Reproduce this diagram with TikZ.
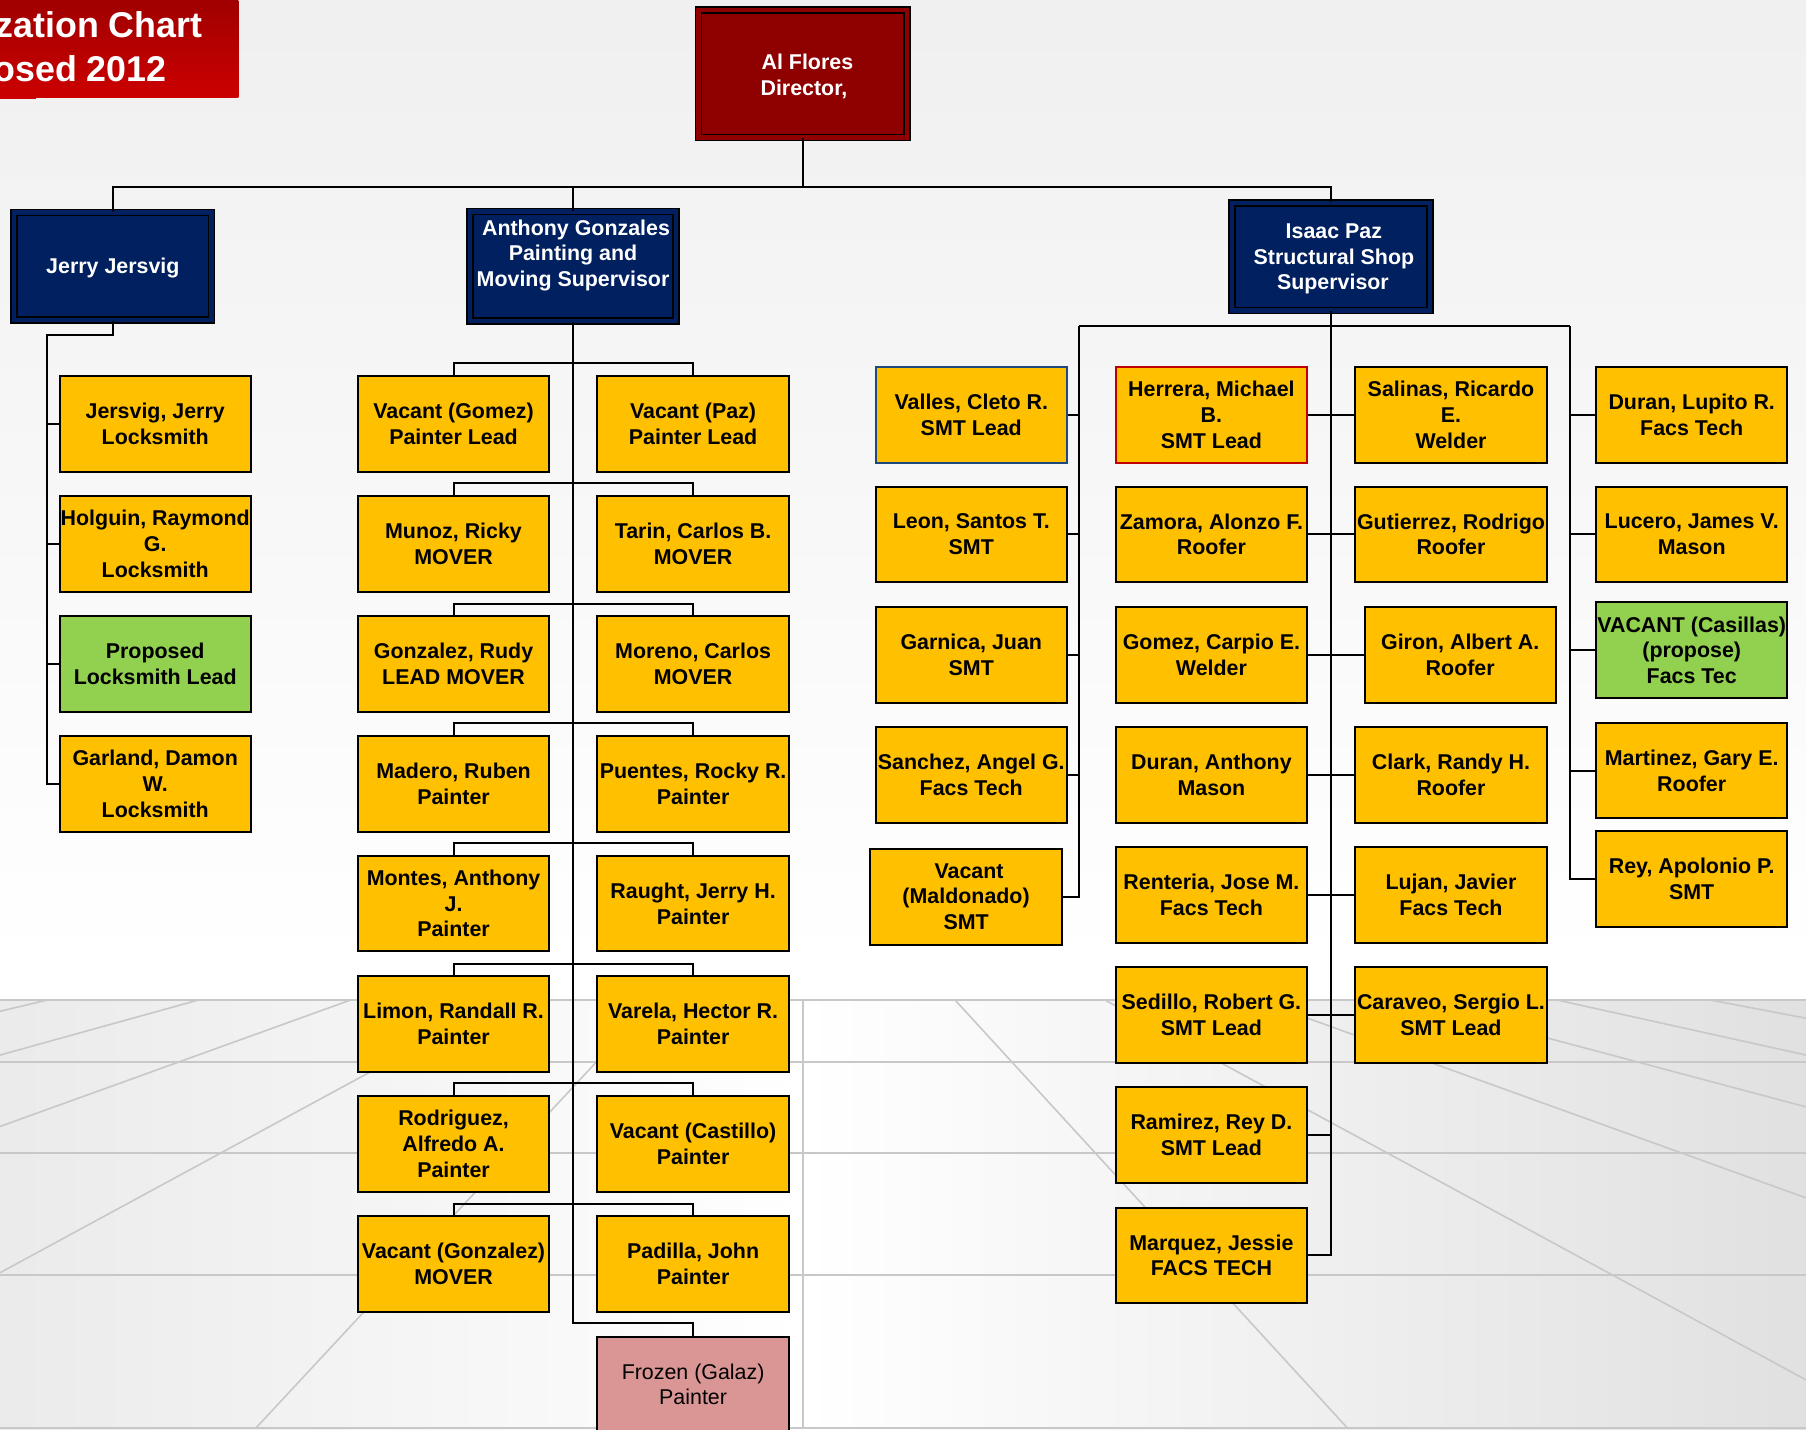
\documentclass[tikz,border=0pt]{standalone}
\usepackage{fontspec}
\setmainfont{Liberation Sans}
\tikzset{
  x=0.5759pt,y=-0.5759pt,
  staff/.style={draw=black,line width=1pt,fill=amber,minimum width=95.7pt,minimum height=47.9pt,inner sep=0pt,xshift=0.15pt,align=center,text=black,font=\bfseries\fontsize{10.7}{12.85}\selectfont},
  greenbox/.style={staff,fill=leaf},
  frozenbox/.style={staff,fill=rose,font=\fontsize{10.7}{12.85}\selectfont},
  redline/.style={staff,draw=hotred},
  blueline/.style={staff,draw=edgeblue},
  chief/.style={draw=black,line width=0.8pt,inner sep=0pt,align=center,text=white,font=\bfseries\fontsize{10.7}{12.85}\selectfont,double distance=2.2pt},
  navybox/.style={chief,fill=navy,double=navy,minimum width=98.8pt,minimum height=53.7pt},
  conn/.style={draw=black,line width=1pt},
  grid/.style={draw=gridgray,line width=0.8pt},
  gridh/.style={draw=gridgray,line width=1pt},
  titletext/.style={text=white,inner sep=0pt,font=\bfseries\fontsize{17.9}{21.9}\selectfont}
}
\definecolor{amber}{HTML}{FFC000}
\definecolor{leaf}{HTML}{92D050}
\definecolor{rose}{HTML}{D99694}
\definecolor{hotred}{HTML}{C00000}
\definecolor{edgeblue}{HTML}{1F497D}
\definecolor{navy}{HTML}{002060}
\definecolor{maroon}{HTML}{8F0000}
\definecolor{gridgray}{HTML}{C8C8C8}
\definecolor{titletop}{HTML}{A00000}
\definecolor{titlelow}{HTML}{CC0000}
\begin{document}
\begin{tikzpicture}
\useasboundingbox (0,0) rectangle (1568,1240.7);
% background
\shade[top color=black!6,bottom color=white] (0,0) rectangle (1568,840);
\fill[white] (0,840) rectangle (1568,868);
\shade[left color=black!8,right color=white] (0,868) rectangle (697,1240.7);
\shade[left color=white,right color=black!12] (697,868) rectangle (1568,1240.7);
% floor grid
\foreach \yy in {868,922,1001,1107,1240}{\draw[gridh] (0,\yy) -- (1568,\yy);}
\draw[grid] (697,868) -- (697,1240.7);
\draw[grid] (42,868) -- (0,878);
\draw[grid] (173,868) -- (0,916);
\draw[grid] (305,868) -- (0,978);
\draw[grid] (437,868) -- (0,1105);
\draw[grid] (568,868) -- (222,1240);
\draw[grid] (829,868) -- (1170,1240);
\draw[grid] (959,868) -- (1568,1198);
\draw[grid] (1091,868) -- (1568,1040);
\draw[grid] (1219,868) -- (1568,961);
\draw[grid] (1351,868) -- (1568,916);
\draw[grid] (1484,868) -- (1568,884);
% title
\shade[top color=titletop,bottom color=titlelow] (0,0) rectangle (207,85);
\fill[titlelow] (0,85) rectangle (31,86);
\node[titletext,anchor=base east] (title1) at (176,32.5) {zation Chart};
\node[titletext,anchor=base east] (title2) at (145,71) {osed 2012};
% director and supervisors
\node[chief,fill=maroon,double=maroon,minimum width=104.3pt,minimum height=63.7pt] (dir) at (697,64) {\rule{0pt}{10.2pt}\hspace*{4.6pt}Al Flores\\\hspace*{1.2pt}Director,};
\node[navybox] (jerry) at (98,231) {\rule{0pt}{10pt}Jerry Jersvig};
\node[navybox,minimum width=102.8pt,minimum height=54.7pt] (ant) at (497.5,231) {\hspace*{3pt}Anthony Gonzales\\Painting and\\Moving Supervisor\\ };
\node[navybox] (isaac) at (1155.5,223) {\rule{0pt}{9.4pt}\hspace*{3pt}Isaac Paz\\\hspace*{3pt}Structural Shop\\\hspace*{2pt}Supervisor};
% Jersvig column
\node[staff] (j1) at (134.5,368) {Jersvig, Jerry\\Locksmith};
\node[staff] (j2) at (134.5,472) {Holguin, Raymond\\G.\\Locksmith};
\node[greenbox] (j3) at (134.5,576.5) {Proposed\\Locksmith Lead};
\node[staff] (j4) at (134.5,680.5) {Garland, Damon\\W.\\Locksmith};
% Gonzales columns
\node[staff] (al1) at (393.5,368) {Vacant (Gomez)\\Painter Lead};
\node[staff] (ar1) at (601.5,368) {Vacant (Paz)\\Painter Lead};
\node[staff] (al2) at (393.5,472) {Munoz, Ricky\\MOVER};
\node[staff] (ar2) at (601.5,472) {Tarin, Carlos B.\\MOVER};
\node[staff] (al3) at (393.5,576.5) {Gonzalez, Rudy\\LEAD MOVER};
\node[staff] (ar3) at (601.5,576.5) {Moreno, Carlos\\MOVER};
\node[staff] (al4) at (393.5,680.5) {Madero, Ruben\\Painter};
\node[staff] (ar4) at (601.5,680.5) {Puentes, Rocky R.\\Painter};
\node[staff] (al5) at (393.5,784.5) {Montes, Anthony\\J.\\Painter};
\node[staff] (ar5) at (601.5,784.5) {Raught, Jerry H.\\Painter};
\node[staff] (al6) at (393.5,889) {Limon, Randall R.\\Painter};
\node[staff] (ar6) at (601.5,889) {Varela, Hector R.\\Painter};
\node[staff] (al7) at (393.5,993) {Rodriguez,\\Alfredo A.\\Painter};
\node[staff] (ar7) at (601.5,993) {Vacant (Castillo)\\Painter};
\node[staff] (al8) at (393.5,1097.5) {Vacant (Gonzalez)\\MOVER};
\node[staff] (ar8) at (601.5,1097.5) {Padilla, John\\Painter};
\node[frozenbox] (fz) at (601.5,1202) {Frozen (Galaz)\\Painter};
% Paz: left column
\node[blueline] (p1) at (843,360) {Valles, Cleto R.\\SMT Lead};
\node[staff] (p2) at (843,464) {Leon, Santos T.\\SMT};
\node[staff] (p3) at (843,568.5) {Garnica, Juan\\SMT};
\node[staff] (p4) at (843,673) {Sanchez, Angel G.\\Facs Tech};
\node[staff] (p5) at (838.5,778.5) {\hspace*{3pt}Vacant\\(Maldonado)\\SMT};
% Paz: middle columns
\node[redline] (m1) at (1051.5,360) {Herrera, Michael\\B.\\SMT Lead};
\node[staff] (n1) at (1259.5,360) {Salinas, Ricardo\\E.\\Welder};
\node[staff] (m2) at (1051.5,464) {Zamora, Alonzo F.\\Roofer};
\node[staff] (n2) at (1259.5,464) {Gutierrez, Rodrigo\\Roofer};
\node[staff] (m3) at (1051.5,568.5) {Gomez, Carpio E.\\Welder};
\node[staff] (n3) at (1267.5,568.5) {Giron, Albert A.\\Roofer};
\node[staff] (m4) at (1051.5,673) {Duran, Anthony\\Mason};
\node[staff] (n4) at (1259.5,673) {Clark, Randy H.\\Roofer};
\node[staff] (m5) at (1051.5,777) {Renteria, Jose M.\\Facs Tech};
\node[staff] (n5) at (1259.5,777) {Lujan, Javier\\Facs Tech};
\node[staff] (m6) at (1051.5,881) {Sedillo, Robert G.\\SMT Lead};
\node[staff] (n6) at (1259.5,881) {Caraveo, Sergio L.\\SMT Lead};
\node[staff] (m7) at (1051.5,985.5) {Ramirez, Rey D.\\SMT Lead};
\node[staff] (m8) at (1051.5,1090) {Marquez, Jessie\\FACS TECH};
% Paz: right column
\node[staff] (r1) at (1468.5,360) {Duran, Lupito R.\\Facs Tech};
\node[staff] (r2) at (1468.5,464) {Lucero, James V.\\Mason};
\node[greenbox] (r3) at (1468.5,564.5) {VACANT (Casillas)\\(propose)\\Facs Tec};
\node[staff] (r4) at (1468.5,669) {Martinez, Gary E.\\Roofer};
\node[staff] (r5) at (1468.5,763) {Rey, Apolonio P.\\SMT};
% connector helpers
\coordinate (bus) at (697,162);
\coordinate (jTop) at (41,291);
\coordinate (aEnd) at (497.5,1149);
\coordinate (lt) at (937,283);
\coordinate (rt) at (1363,283);
% connectors
\draw[conn] (dir.south) -- (bus);
\draw[conn] (jerry.north) |- (bus);
\draw[conn] (ant.north) |- (bus);
\draw[conn] (isaac.north) |- (bus);
\draw[conn] (jerry.south) |- (jTop) |- (j4.west);
\foreach \n in {1,2,3}{\draw[conn] (j\n.west) -| (jTop);}
\draw[conn] (ant.south) -- (aEnd) -| (fz.north);
\foreach \n in {1,...,8}{\draw[conn] (al\n.north) -- ++(0,-10) -| (ar\n.north);}
\draw[conn] (isaac.south) |- (m8.east);
\draw[conn] (m7.east) -| (isaac.south);
\draw[conn] (lt) -- (rt);
\foreach \n in {1,...,5}{\draw[conn] (p\n.east) -| (lt);\draw[conn] (r\n.west) -| (rt);}
\foreach \n in {1,...,6}{\draw[conn] (m\n.east) -- (n\n.west);}
\end{tikzpicture}
\end{document}
